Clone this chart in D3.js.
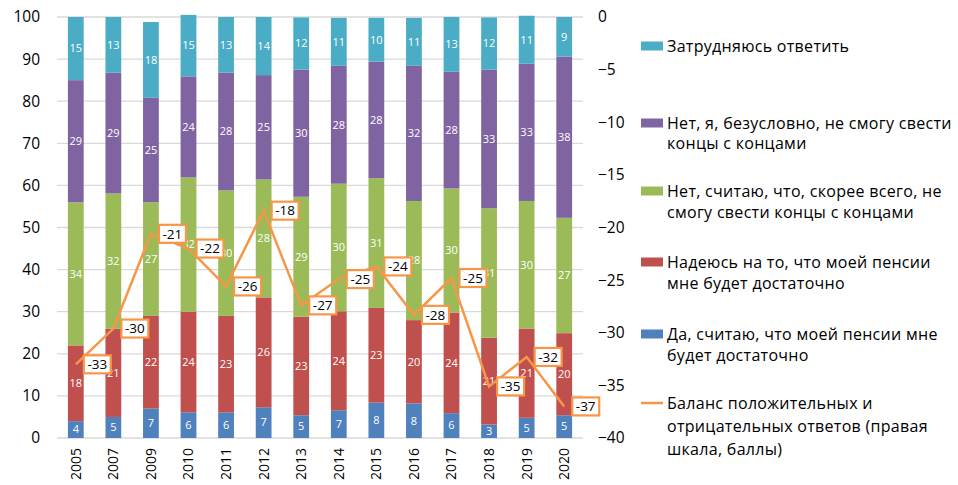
<!DOCTYPE html>
<html>
<head>
  <meta charset="utf-8">
  <script src="https://cdnjs.cloudflare.com/ajax/libs/d3/7.8.5/d3.min.js"></script>
  <style>
    body { margin: 0; background: #fff; }
    svg { display: block; font-family: "Open Sans", sans-serif; }
  </style>
</head>
<body>
  <svg></svg>
  <script>
    // years on the x axis
    var years = ["2005", "2007", "2009", "2010", "2011", "2012", "2013", "2014", "2015", "2016", "2017", "2018", "2019", "2020"];

    // stacked shares, %, bottom to top
    var yesEnough   = [4.0, 5.0, 7.0, 6.1, 6.1, 7.3, 5.4, 6.6, 8.4, 8.2, 5.9, 3.2, 4.8, 5.4];
    var hopeEnough  = [18.0, 21.0, 22.0, 23.9, 22.9, 26.1, 23.4, 23.5, 22.5, 19.8, 23.9, 20.6, 21.2, 19.5];
    var probablyNot = [34.0, 32.1, 27.0, 31.9, 29.8, 28.0, 28.5, 30.3, 30.8, 28.3, 29.5, 30.8, 30.3, 27.4];
    var certainlyNot = [29.0, 28.7, 24.8, 24.0, 28.0, 24.8, 30.2, 28.0, 27.7, 32.1, 27.7, 32.9, 32.6, 38.3];
    var hardToSay   = [15.0, 13.2, 18.0, 14.6, 13.2, 13.8, 12.4, 11.4, 10.4, 11.4, 13.0, 12.4, 11.4, 9.4];

    // balance of positive and negative answers (right axis)
    var balance = [-33, -29.6, -20.6, -22, -25.6, -18.4, -27.4, -24.9, -23.7, -28.3, -24.8, -35.1, -32.3, -37.0];

    var leftTicks = [0, 10, 20, 30, 40, 50, 60, 70, 80, 90, 100];
    var rightTicks = [0, -5, -10, -15, -20, -25, -30, -35, -40];

    var seriesNames = [
      "Да, считаю, что моей пенсии мне будет достаточно",
      "Надеюсь на то, что моей пенсии мне будет достаточно",
      "Нет, считаю, что, скорее всего, не смогу свести концы с концами",
      "Нет, я, безусловно, не смогу свести концы с концами",
      "Затрудняюсь ответить"
    ];
    var balanceName = "Баланс положительных и отрицательных ответов (правая шкала, баллы)";
    var seriesData = [yesEnough, hopeEnough, probablyNot, certainlyNot, hardToSay];
    var colors = ["#4f81bd", "#c0504d", "#9bbb59", "#8064a2", "#4bacc6"];
    var lineColor = "#f79646";

    var W = 958, H = 485;
    var svg = d3.select("svg").attr("width", W).attr("height", H);

    var plot = { left: 57, right: 583, top: 17, bottom: 438 };

    var x = d3.scaleBand().domain(years)
      .range([plot.left, plot.right])
      .paddingInner(0.58).paddingOuter(0.29);
    var y = d3.scaleLinear().domain([0, 100]).range([plot.bottom, plot.top]);
    var y2 = d3.scaleLinear().domain([-40, 0]).range([plot.bottom, plot.top]);

    // gridlines
    svg.append("g").selectAll("line")
      .data(leftTicks).enter().append("line")
      .attr("x1", plot.left).attr("x2", plot.right)
      .attr("y1", function(d) { return y(d); })
      .attr("y2", function(d) { return y(d); })
      .attr("stroke", "#d9d9d9").attr("stroke-width", 1.3);

    // left axis
    var leftAxis = svg.append("g")
      .attr("transform", "translate(" + (plot.left - 17) + ",0)")
      .call(d3.axisLeft(y).tickValues(leftTicks).tickSize(0).tickPadding(0));
    leftAxis.select(".domain").remove();
    leftAxis.selectAll("text").attr("font-size", 15.5).attr("fill", "#000")
      .attr("font-family", "Open Sans");

    // right axis
    var rightAxis = svg.append("g")
      .attr("transform", "translate(" + (plot.right + 15) + ",0)")
      .call(d3.axisRight(y2).tickValues(rightTicks).tickSize(0).tickPadding(0));
    rightAxis.select(".domain").remove();
    rightAxis.selectAll("text").attr("font-size", 15.5).attr("fill", "#000")
      .attr("font-family", "Open Sans");

    // x axis labels (rotated)
    var xAxis = svg.append("g")
      .attr("transform", "translate(0," + (plot.bottom + 10) + ")")
      .call(d3.axisBottom(x).tickSize(0).tickPadding(0));
    xAxis.select(".domain").remove();
    xAxis.selectAll("text")
      .attr("font-size", 14).attr("fill", "#000").attr("font-family", "Open Sans")
      .attr("transform", "rotate(-90)")
      .attr("text-anchor", "end")
      .attr("x", 0).attr("y", 0).attr("dy", "0.35em");

    // stacked bars
    var rows = years.map(function(yr, i) {
      var r = { year: yr };
      seriesData.forEach(function(s, k) { r["s" + k] = s[i]; });
      return r;
    });
    var stack = d3.stack().keys(seriesData.map(function(s, k) { return "s" + k; }));
    var stacked = stack(rows);

    var layers = svg.append("g").selectAll("g")
      .data(stacked).enter().append("g")
      .attr("fill", function(d, k) { return colors[k]; });

    layers.selectAll("rect")
      .data(function(d) { return d; })
      .enter().append("rect")
      .attr("x", function(d) { return x(d.data.year); })
      .attr("width", x.bandwidth())
      .attr("y", function(d) { return y(d[1]); })
      .attr("height", function(d) { return y(d[0]) - y(d[1]); });

    layers.selectAll("text")
      .data(function(d) { return d; })
      .enter().append("text")
      .attr("x", function(d) { return x(d.data.year) + x.bandwidth() / 2; })
      .attr("y", function(d) { return y((d[0] + d[1]) / 2); })
      .attr("dy", "0.35em")
      .attr("text-anchor", "middle")
      .attr("font-size", 11)
      .attr("fill", "#fff")
      .text(function(d) { return Math.round(d[1] - d[0]); });

    // balance line
    var cx = function(i) { return x(years[i]) + x.bandwidth() / 2; };
    var line = d3.line()
      .x(function(d, i) { return cx(i); })
      .y(function(d) { return y2(d); });
    svg.append("path")
      .datum(balance)
      .attr("d", line)
      .attr("fill", "none")
      .attr("stroke", lineColor)
      .attr("stroke-width", 2.5)
      .attr("stroke-linejoin", "miter");

    // balance labels
    var lbl = svg.append("g").selectAll("g")
      .data(balance).enter().append("g")
      .attr("transform", function(d, i) {
        return "translate(" + (cx(i) + 8) + "," + y2(d) + ")";
      });
    lbl.append("rect")
      .attr("x", 0).attr("y", -9)
      .attr("width", 27).attr("height", 18)
      .attr("fill", "#fff")
      .attr("stroke", lineColor).attr("stroke-width", 2.2);
    lbl.append("text")
      .attr("x", 13.5).attr("y", 0).attr("dy", "0.35em")
      .attr("text-anchor", "middle")
      .attr("font-size", 13.5)
      .attr("fill", "#000")
      .text(function(d) { return Math.round(d); });

    // legend
    var legendItems = [
      { name: seriesNames[4], color: colors[4], y: 46, lh: 21 },
      { name: seriesNames[3], color: colors[3], y: 123, lh: 20 },
      { name: seriesNames[2], color: colors[2], y: 191, lh: 21 },
      { name: seriesNames[1], color: colors[1], y: 262, lh: 21 },
      { name: seriesNames[0], color: colors[0], y: 334, lh: 21 },
      { name: balanceName, color: lineColor, y: 403, lh: 23, isLine: true }
    ];
    var wrapW = 292;
    var lg = svg.append("g").selectAll("g")
      .data(legendItems).enter().append("g")
      .attr("transform", function(d) { return "translate(641," + d.y + ")"; });
    lg.append("rect")
      .attr("x", 0)
      .attr("y", function(d) { return d.isLine ? -1.25 : -4.5; })
      .attr("width", 22)
      .attr("height", function(d) { return d.isLine ? 2.5 : 9; })
      .attr("fill", function(d) { return d.color; });
    lg.append("text")
      .attr("font-size", 16)
      .attr("letter-spacing", 0.3)
      .attr("fill", "#000")
      .each(function(d) {
        var t = d3.select(this);
        var words = d.name.split(" ");
        var lines = [], cur = "";
        var probe = t.append("tspan");
        words.forEach(function(w) {
          var test = cur ? cur + " " + w : w;
          probe.text(test);
          if (probe.node().getComputedTextLength() > wrapW && cur) {
            lines.push(cur);
            cur = w;
          } else {
            cur = test;
          }
        });
        lines.push(cur);
        probe.remove();
        lines.forEach(function(l, j) {
          t.append("tspan").attr("x", 26).attr("y", j * d.lh).attr("dy", "0.35em").text(l);
        });
      });
  </script>
</body>
</html>
